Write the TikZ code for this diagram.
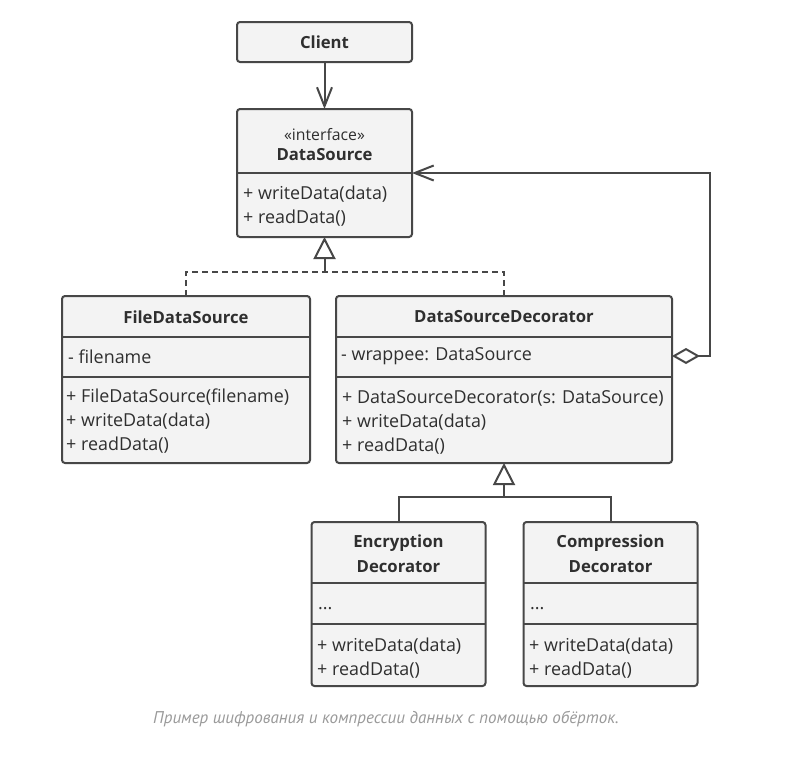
\documentclass[tikz,border=0pt]{standalone}
\usepackage{fontspec}
\setmainfont{Open Sans}
\newfontfamily\captionfont{PT Sans}
\usetikzlibrary{arrows.meta,positioning}

\definecolor{umlline}{HTML}{474747}
\definecolor{umlfill}{HTML}{F3F3F3}
\definecolor{umltext}{HTML}{2F2F2F}
\definecolor{captiongray}{HTML}{9A9A9A}

\tikzset{
  classbox/.style={draw=umlline, fill=umlfill, line width=2pt, rounded corners=3pt,
    inner sep=0pt, outer sep=0pt, anchor=north west},
  classname/.style={font=\fontsize{16.7}{20}\selectfont\bfseries, text=umltext, align=center, inner sep=0pt},
  member/.style={font=\fontsize{17.9}{24}\selectfont, text=umltext, align=left, inner sep=0pt, anchor=west},
  divider/.style={draw=umlline, line width=2pt},
  link/.style={draw=umlline, line width=2pt},
  realize/.style={link, dash pattern=on 6pt off 4pt},
  usesarrow/.style={link, -{Straight Barb[length=19pt,width=15pt]}},
  inherittip/.style={link, -{Triangle[length=22pt,width=22pt,fill=white]}},
}

\begin{document}
\begin{tikzpicture}[x=1pt, y=-1pt]
  \fill[white] (0,0) rectangle (805,763);
  \useasboundingbox (0,0) rectangle (805,763);

  % client
  \node[classbox, minimum width=175pt, minimum height=40pt] (client) at (237,22) {};
  \node[classname] (clientName) at (324.5,42) {Client};

  % interface
  \node[classbox, minimum width=175pt, minimum height=128pt] (src) at (237,109) {};
  \draw[divider] (237,173) -- ++(175,0);
  \node[classname, font=\fontsize{15.8}{20}\selectfont] (srcName) at (324.5,145)
    {«interface»\\\fontsize{16.7}{20}\selectfont\bfseries DataSource};
  \node[member] (srcOps) at (243,206) {+ writeData(data)\\+ readData()};

  % concrete source
  \node[classbox, minimum width=248pt, minimum height=167pt] (fds) at (62,296) {};
  \draw[divider] (62,337) -- ++(248,0);
  \draw[divider] (62,377) -- ++(248,0);
  \node[classname] (fdsName) at (186,317) {FileDataSource};
  \node[member] (fdsAttr) at (68,357) {- filename};
  \node[member] (fdsOps) at (66,421) {+ FileDataSource(filename)\\+ writeData(data)\\+ readData()};

  % base decorator
  \node[classbox, minimum width=336pt, minimum height=167pt] (dsd) at (336,296) {};
  \draw[divider] (336,337) -- ++(336,0);
  \draw[divider] (336,377) -- ++(336,0);
  \node[classname] (dsdName) at (504,317) {DataSourceDecorator};
  \node[member] (dsdAttr) at (341,356) {- wrappee: DataSource};
  \node[member] (dsdOps) at (342,422) {+ DataSourceDecorator(s: DataSource)\\+ writeData(data)\\+ readData()};

  % concrete decorators
  \node[classbox, minimum width=174pt, minimum height=164pt] (enc) at (311.5,522) {};
  \draw[divider] (311.5,583) -- ++(174,0);
  \draw[divider] (311.5,624) -- ++(174,0);
  \node[classname, font=\fontsize{16.7}{25}\selectfont\bfseries] (encName) at (398.5,554) {Encryption\\Decorator};
  \node[member, anchor=base west] (encAttr) at (318,609) {...};
  \node[member] (encOps) at (317,658) {+ writeData(data)\\+ readData()};

  \node[classbox, minimum width=174pt, minimum height=164pt] (cmp) at (523.5,522) {};
  \draw[divider] (523.5,583) -- ++(174,0);
  \draw[divider] (523.5,624) -- ++(174,0);
  \node[classname, font=\fontsize{16.7}{25}\selectfont\bfseries] (cmpName) at (610.5,554) {Compression\\Decorator};
  \node[member, anchor=base west] (cmpAttr) at (530,609) {...};
  \node[member] (cmpOps) at (529,658) {+ writeData(data)\\+ readData()};

  % links
  \draw[usesarrow] (client.south) -- (src.north);

  \coordinate[below=35pt of src.south] (implJoin);
  \draw[realize] (fds.north) |- (implJoin) -| (dsd.north);
  \draw[inherittip] (implJoin) -- (src.south);

  \coordinate[below=34pt of dsd.south] (decoJoin);
  \draw[link] (enc.north) |- (decoJoin) -| (cmp.north);
  \draw[inherittip] (decoJoin) -- (dsd.south);

  \draw[link, {Diamond[length=28pt,width=16pt,fill=white]}-{Straight Barb[length=19pt,width=15pt]}]
    (dsd.east |- dsdAttr) -- ++(38,0) |- (src.east |- 0,173);

  \node[font=\captionfont\itshape\fontsize{17}{20}\selectfont, text=captiongray] (caption) at (386,719)
    {Пример шифрования и компрессии данных с помощью обёрток.};
\end{tikzpicture}
\end{document}
